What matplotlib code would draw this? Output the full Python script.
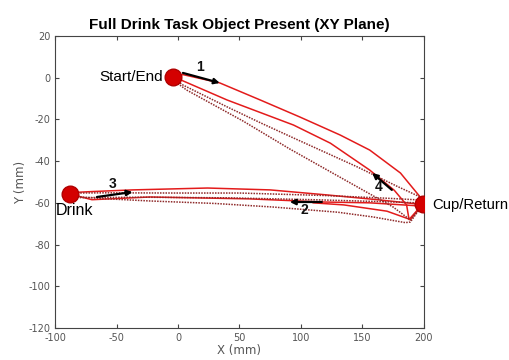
import matplotlib
matplotlib.use("Agg")
import matplotlib.pyplot as plt

plt.rcParams["axes.unicode_minus"] = False

# key positions (mm)
start_xy = (-4, 0.5)
drink_xy = (-88, -55.7)
cup_xy = (199, -60.5)

# solid (red) traces
solid_out_x = [-1, 4, 34, 67, 99, 132, 156, 181, 199]
solid_out_y = [0.8, 1.5, -2.5, -10.7, -18.8, -27.5, -34.7, -45.7, -58.6]
solid_back_x = [199, 194, 188, 186, 176, 156, 124, 94, 40, 4, -2]
solid_back_y = [-60, -64, -68, -61, -54, -44.3, -31.4, -22.7, -10.7, -1.5, 0]
solid_ret_x = [197, 156, 118, 58, -23, -70, -80, -84]
solid_ret_y = [-61.5, -60, -59.6, -58.1, -57.2, -58.5, -57, -55.7]
solid_go_x = [-84, -70, -37, 24, 75, 121, 164, 194, 199]
solid_go_y = [-55, -54.6, -53.8, -52.9, -53.8, -56.2, -58.6, -60.5, -60.5]
solid_loop_x = [199, 189, 170, 135, 110]
solid_loop_y = [-61, -68, -64, -61, -60]

# dotted (dark red) traces
dot_out1_x = [-2, 4, 40, 67, 94, 146, 178, 199]
dot_out1_y = [-1, -3.5, -14, -21.6, -28.9, -42.8, -52, -57.7]
dot_out2_x = [-2, 7, 53, 91, 146, 175, 189, 199]
dot_out2_y = [-2, -5.9, -20.8, -34.2, -52.4, -62, -68.2, -61]
dot_h1_x = [-84, -60, 0, 50, 120, 170, 196]
dot_h1_y = [-55.3, -55.2, -55.3, -55.3, -56.5, -57.8, -58.6]
dot_h2_x = [-84, -60, -23, 30, 77, 130, 159, 185, 189, 199]
dot_h2_y = [-57, -58, -59.1, -60.3, -62, -64.5, -66.8, -69.5, -69.2, -61]
dot_h3_x = [-80, -30, 40, 110, 170, 196]
dot_h3_y = [-57.5, -57.3, -57.6, -58.5, -59.5, -60]

# direction arrows: (x0, y0, x1, y1), labels
arrows = [(4, 2.3, 34, -2.5), (117, -59.6, 91, -59.6),
          (-66, -57.2, -37, -54.8), (174, -53.8, 158, -45.7)]
arrow_labels = ["1", "2", "3", "4"]
label_xy = [(18, 5.1), (103, -63.4), (-53, -51), (163, -52.4)]

red = "#e31b1b"
dark = "#8e2a2a"

fig = plt.figure(figsize=(5.1, 3.6), dpi=100)
ax = fig.add_axes([0.108, 0.089, 0.723, 0.811])

for xs, ys in [(solid_out_x, solid_out_y), (solid_back_x, solid_back_y),
               (solid_ret_x, solid_ret_y), (solid_go_x, solid_go_y),
               (solid_loop_x, solid_loop_y)]:
    ax.plot(xs, ys, color=red, lw=1.1)
for xs, ys in [(dot_out1_x, dot_out1_y), (dot_out2_x, dot_out2_y),
               (dot_h1_x, dot_h1_y), (dot_h2_x, dot_h2_y), (dot_h3_x, dot_h3_y)]:
    ax.plot(xs, ys, color=dark, lw=1.1, ls=(0, (1, 0.8)))

for (x0, y0, x1, y1), lab, (lx, ly) in zip(arrows, arrow_labels, label_xy):
    ax.annotate("", xy=(x1, y1), xytext=(x0, y0),
                arrowprops=dict(arrowstyle="-|>", color="black", lw=1.6,
                                mutation_scale=8, shrinkA=0, shrinkB=0))
    ax.text(lx, ly, lab, fontsize=10, fontweight="bold", ha="center",
            va="center", family="Liberation Sans", color="#111111")

for px, py in [start_xy, drink_xy, cup_xy]:
    ax.plot(px, py, "o", ms=12, color="#d40000", mec="#b00000", zorder=5)

ax.text(-12, 0.5, "Start/End", ha="right", va="center", fontsize=11,
        family="Liberation Sans")
ax.text(-84, -63.5, "Drink", ha="center", va="center", fontsize=11.5,
        family="Liberation Sans")
ax.text(207, -61, "Cup/Return", ha="left", va="center", fontsize=10.7,
        family="Liberation Sans", clip_on=False)

ax.set_xlim(-100, 200)
ax.set_ylim(-120, 20)
ax.set_xticks(range(-100, 201, 50))
ax.set_yticks(range(-120, 21, 20))
ax.tick_params(direction="in", top=True, right=True, labelsize=7,
               labelcolor="#555555", length=3, color="#444444")
for s in ax.spines.values():
    s.set_color("#444444")
ax.set_xlabel("X (mm)", fontsize=8.5, color="#555555", labelpad=1)
ax.set_ylabel("Y (mm)", fontsize=8.5, color="#555555", labelpad=1)
ax.set_title("Full Drink Task Object Present (XY Plane)", fontsize=11,
             fontweight="bold", family="Liberation Sans", pad=5)

fig.savefig("out.png", dpi=100)
